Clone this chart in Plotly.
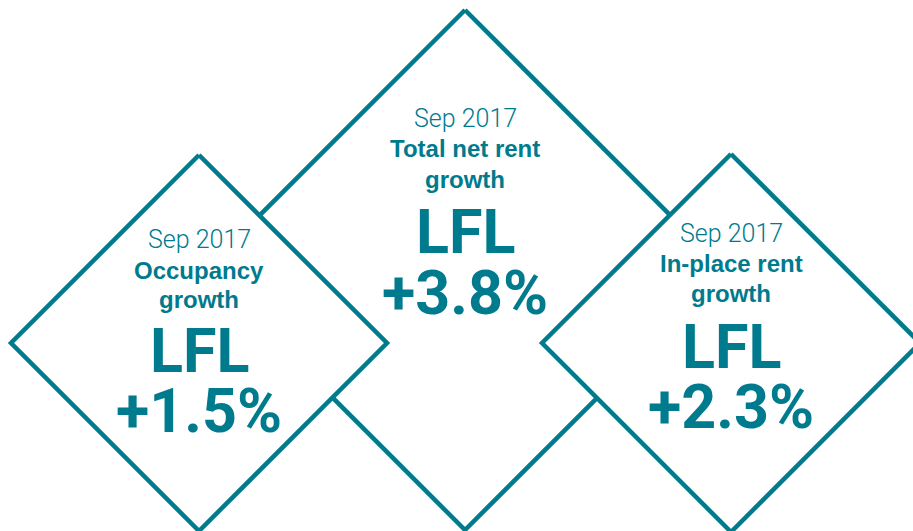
import plotly.graph_objects as go

# Data
periods = ["Sep 2017", "Sep 2017", "Sep 2017"]
metrics = ["Occupancy<br>growth", "Total net rent<br>growth", "In-place rent<br>growth"]
labels = ["LFL", "LFL", "LFL"]
values = [1.5, 3.8, 2.3]

TEAL = "#007B8E"
W, H = 913, 531

# layout geometry (pixel space): center x, center y, half diagonal
geom = {
    1: (465, 270, 260),   # center (drawn first)
    0: (199, 343, 188),
    2: (731, 343, 189),
}
text_y = {
    0: (239, 270, 299, 351, 411),
    1: (118, 148, 179, 232, 293),
    2: (233, 263, 293, 347, 407),
}

fig = go.Figure()
for i in [1, 0, 2]:
    cx, cy, r = geom[i]
    fig.add_trace(go.Scatter(
        x=[cx, cx + r, cx, cx - r, cx],
        y=[cy - r, cy, cy + r, cy, cy - r],
        mode="lines", fill="toself", fillcolor="white",
        line=dict(color=TEAL, width=4.5), hoverinfo="skip", showlegend=False,
    ))

for i in range(3):
    cx = geom[i][0]
    ys = text_y[i]
    m1, m2 = metrics[i].split("<br>")
    items = [
        (periods[i], ys[0], 25, 300, "Roboto", None),
        (m1, ys[1], 24, 700, "Liberation Sans", None),
        (m2, ys[2], 24, 700, "Liberation Sans", None),
        (labels[i], ys[3], 61, 700, "Roboto", 56),
        (f"+{values[i]:.1f}%", ys[4], 61, 700, "Roboto", 56),
    ]
    for txt, y, size, wt, fam, hgt in items:
        fig.add_annotation(x=cx, y=y, text=txt, showarrow=False,
                           xanchor="center", yanchor="middle", height=hgt,
                           borderpad=0, valign="middle",
                           font=dict(family=fam, size=size, color=TEAL, weight=wt))

fig.update_layout(
    width=W, height=H, margin=dict(l=0, r=0, t=0, b=0),
    paper_bgcolor="white", plot_bgcolor="white",
    xaxis=dict(range=[0, W], visible=False, fixedrange=True),
    yaxis=dict(range=[H, 0], visible=False, fixedrange=True),
)
fig.write_html("out.html", config={"displayModeBar": False, "staticPlot": True},
               post_script="document.body.style.margin='0';document.body.style.overflow='hidden';")
